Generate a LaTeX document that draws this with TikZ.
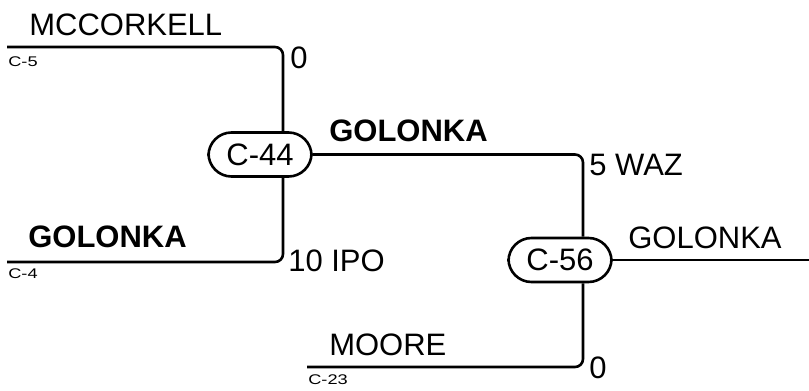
\documentclass[tikz,border=0pt]{standalone}
\usepackage{fontspec}
\setmainfont{Liberation Sans}
\newfontfamily\seedfont[FakeStretch=1.3]{Liberation Sans}
\usepackage{tikz}
\usetikzlibrary{calc}

\begin{document}
\begin{tikzpicture}[x=1pt, y=-1pt, line width=2.6pt,
    game/.style={draw, rectangle, rounded corners=23pt, minimum width=103pt,
      minimum height=44pt, inner sep=0pt, font=\fontsize{31}{34}\selectfont},
    link/.style={rounded corners=8pt},
    player/.style={anchor=base west, inner sep=0pt, font=\fontsize{31}{34}\selectfont},
    winner/.style={player, font=\fontsize{31}{34}\selectfont\bfseries},
    seed/.style={anchor=base west, inner sep=0pt, font=\seedfont\fontsize{14}{16}\selectfont}]
  \useasboundingbox (0,0) rectangle (809,391);
  % ------- games -------
  \node[game] (c44) at (260,154.5) {C-44};
  \node[game] (c56) at (560,260) {C-56};
  % line ends
  \coordinate (c5) at (7,47);
  \coordinate (c4) at (7,262);
  \coordinate (c23) at (307,367);
  \coordinate (out) at (809,0);
  % ------- connectors -------
  \draw[link] (c5) -| ([xshift=23pt]c44.north);
  \draw[link] (c4) -| ([xshift=23pt]c44.south);
  \draw[link] (c44.east) -| ([xshift=23pt]c56.north);
  \draw[link] (c23) -| ([xshift=23pt]c56.south);
  \draw (c56.east) -- (c56.east -| out);
  % ------- labels -------
  \node[player] (mccorkell) at (28,35) {MCCORKELL};
  \node[seed] (s5) at (7,66) {C-5};
  \node[player] (sc1) at (289,68) {0};
  \node[winner] (golonka1) at (27,247) {GOLONKA};
  \node[seed] (s4) at (7,278) {C-4};
  \node[player] (sc2) at (287,271) {10 IPO};
  \node[winner] (golonka2) at (328,141) {GOLONKA};
  \node[player] (sc3) at (588,175) {5 WAZ};
  \node[player] (moore) at (328,355) {MOORE};
  \node[seed] (s23) at (307,384) {C-23};
  \node[player] (sc4) at (588,378) {0};
  \node[player] (golonka3) at (627,248) {GOLONKA};
\end{tikzpicture}
\end{document}
